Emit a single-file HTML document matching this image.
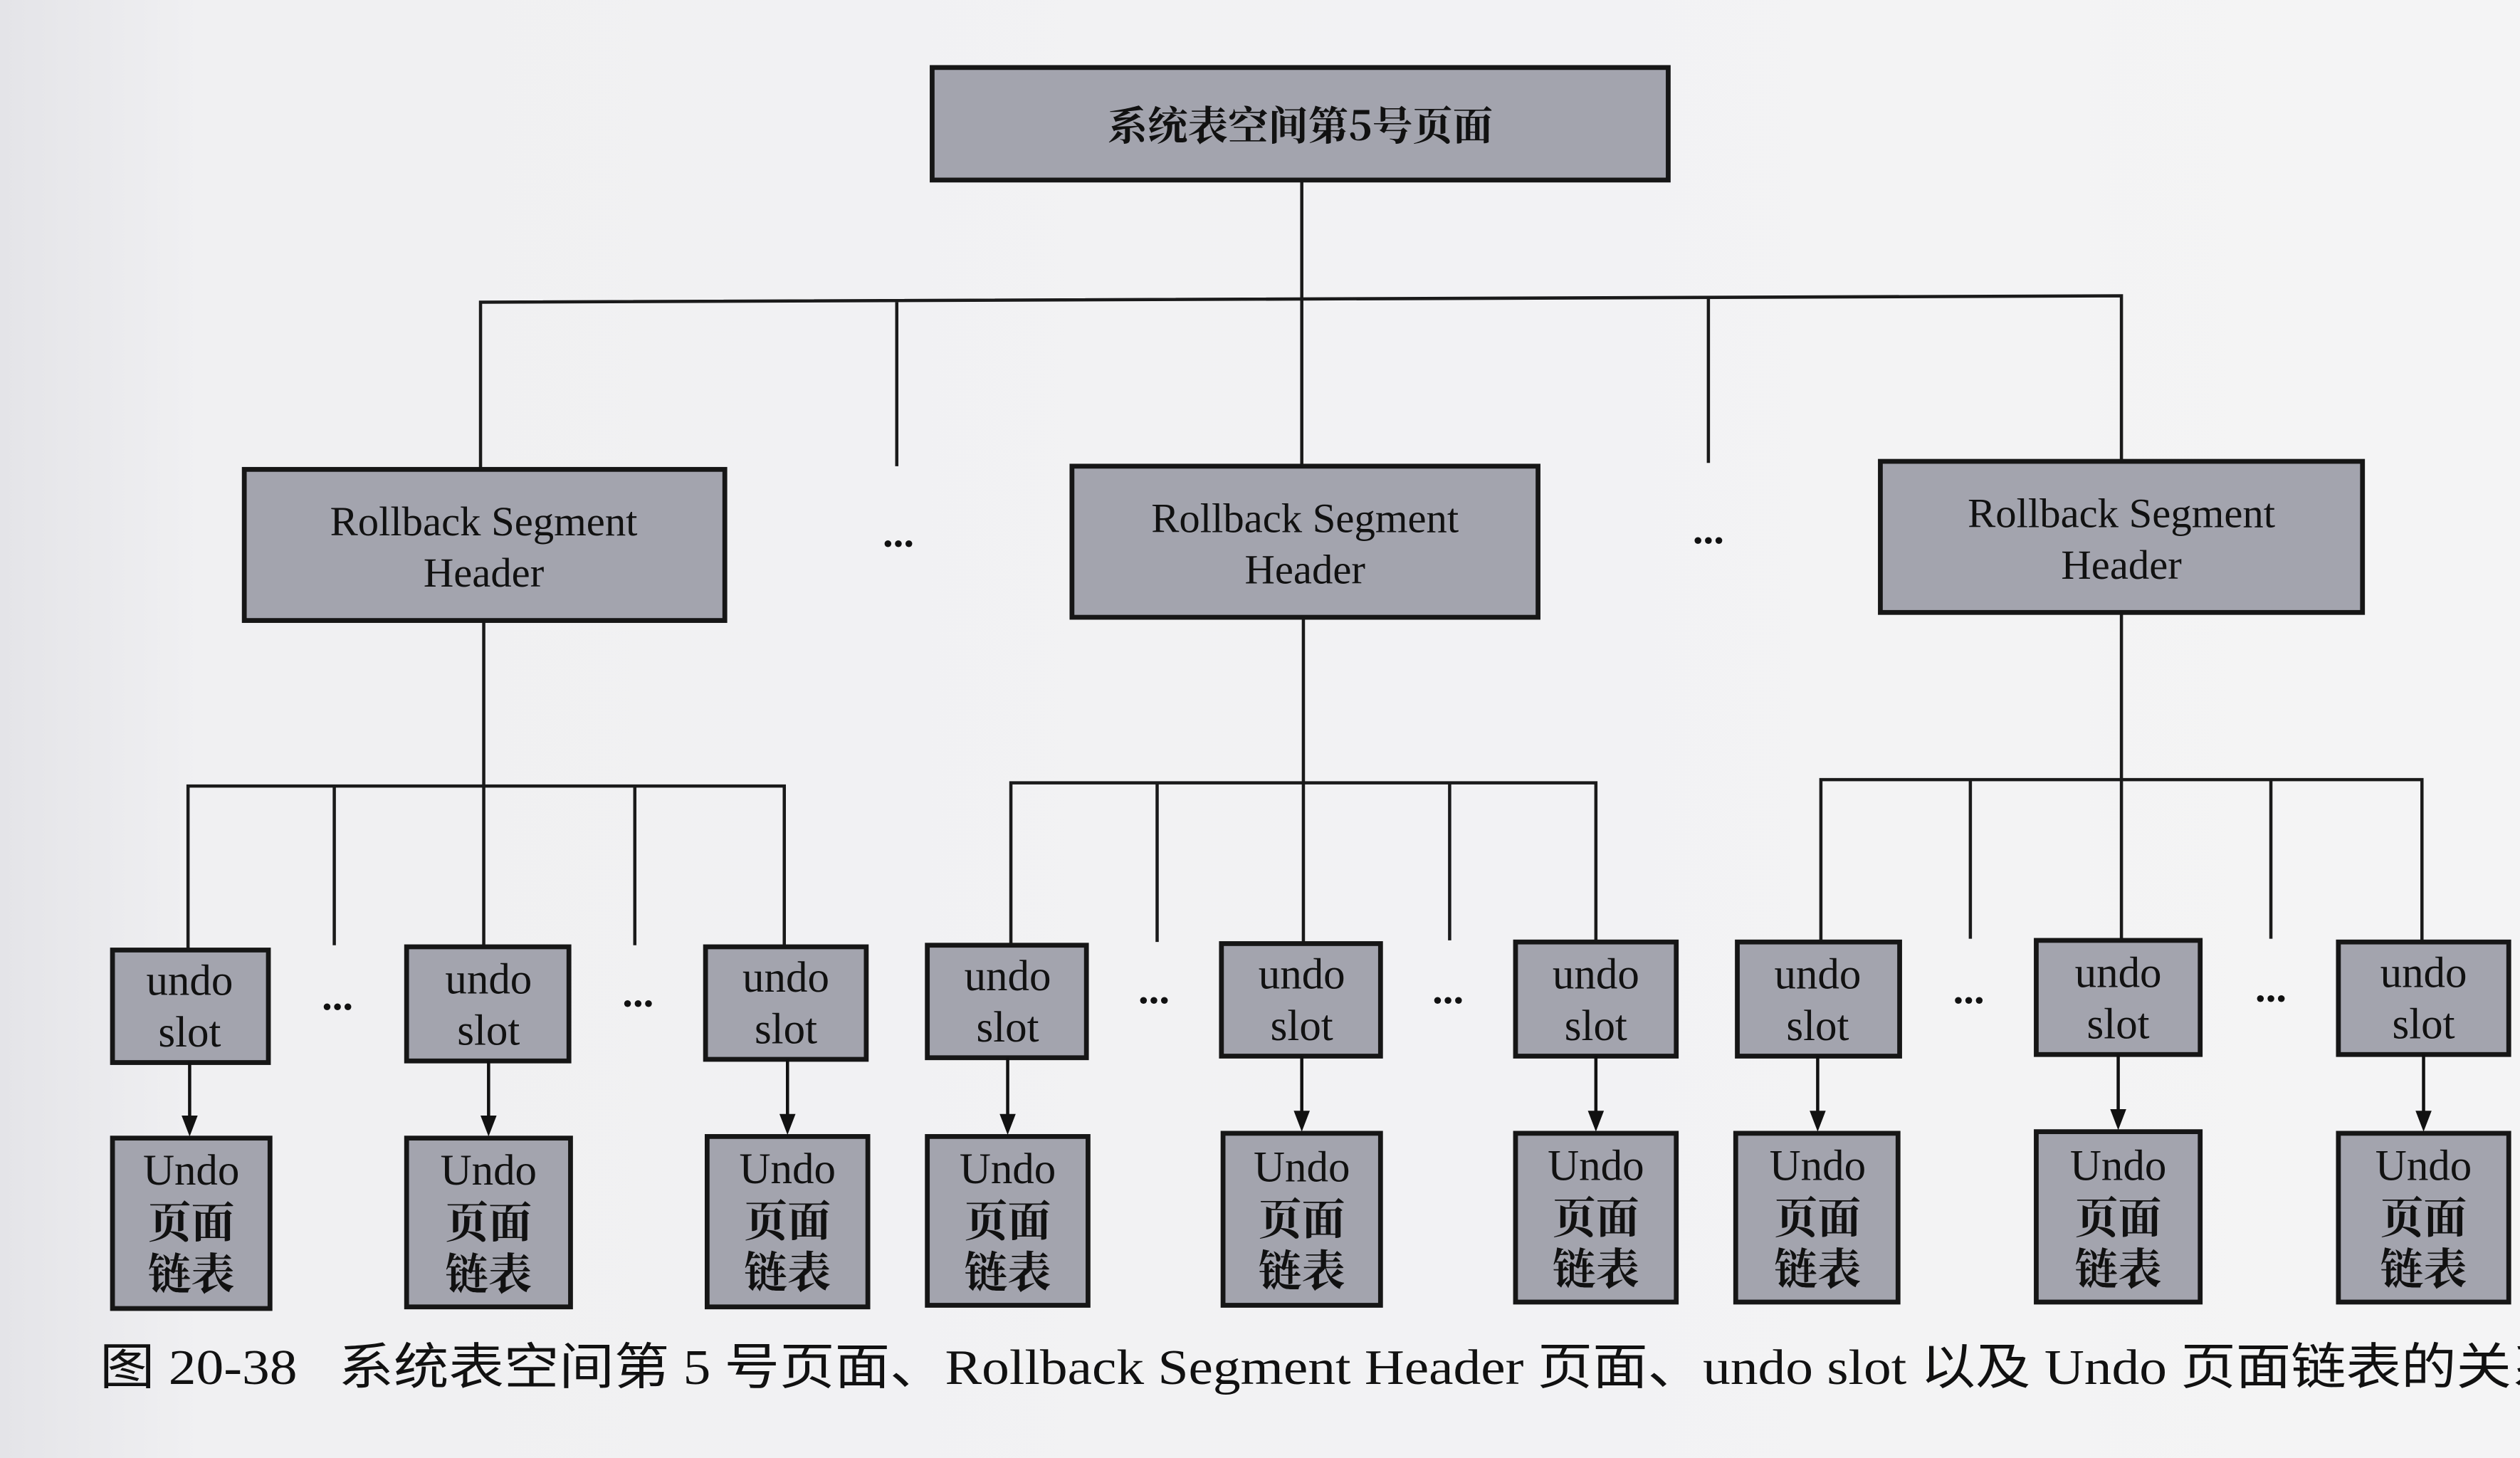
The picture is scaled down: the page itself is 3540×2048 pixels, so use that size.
<!DOCTYPE html>
<html><head><meta charset="utf-8"><style>
html,body{margin:0;padding:0;background:#efeff1;}
svg{display:block;}
</style></head><body>
<svg width="3540" height="2048" viewBox="0 0 1568 907" preserveAspectRatio="none" xmlns="http://www.w3.org/2000/svg">
<defs>
<linearGradient id="bg" x1="0" y1="0" x2="1" y2="0">
<stop offset="0" stop-color="#e4e4e8"/><stop offset="0.08" stop-color="#f0f0f2"/><stop offset="1" stop-color="#f4f4f5"/>
</linearGradient>
</defs>
<rect width="1568" height="907" fill="url(#bg)"/>
<g stroke="#1a1a1a" stroke-width="2" fill="none">
<line x1="810" y1="112" x2="810" y2="187"/>
<polyline points="299,292 299,188 1320,184 1320,287"/>
<line x1="558" y1="188" x2="558" y2="290"/>
<line x1="810" y1="186" x2="810" y2="290"/>
<line x1="1063" y1="185" x2="1063" y2="288"/>
<line x1="301" y1="386" x2="301" y2="589"/>
<polyline points="117,591 117,489 488,489 488,589"/>
<line x1="208" y1="489" x2="208" y2="588"/>
<line x1="395" y1="489" x2="395" y2="588"/>
<line x1="811" y1="384" x2="811" y2="587"/>
<polyline points="629,588 629,487 993,487 993,586"/>
<line x1="720" y1="487" x2="720" y2="586"/>
<line x1="902" y1="487" x2="902" y2="585"/>
<line x1="1320" y1="381" x2="1320" y2="585"/>
<polyline points="1133,586 1133,485 1507,485 1507,586"/>
<line x1="1226" y1="485" x2="1226" y2="584"/>
<line x1="1413" y1="485" x2="1413" y2="584"/>
</g>
<g fill="#a3a4ae" stroke="#161616" stroke-width="3">
<rect x="580" y="42" width="458" height="70"/>
<rect x="152" y="292" width="299" height="94"/>
<rect x="667" y="290" width="290" height="94"/>
<rect x="1170" y="287" width="300" height="94"/>
<rect x="70" y="591" width="97" height="70"/>
<rect x="253" y="589" width="101" height="71"/>
<rect x="439" y="589" width="100" height="70"/>
<rect x="577" y="588" width="99" height="70"/>
<rect x="760" y="587" width="99" height="70"/>
<rect x="943" y="586" width="100" height="71"/>
<rect x="1081" y="586" width="101" height="71"/>
<rect x="1267" y="585" width="102" height="71"/>
<rect x="1455" y="586" width="106" height="70"/>
<rect x="70" y="708" width="98" height="106"/>
<rect x="253" y="708" width="102" height="105"/>
<rect x="440" y="707" width="100" height="106"/>
<rect x="577" y="707" width="100" height="105"/>
<rect x="761" y="705" width="98" height="107"/>
<rect x="943" y="705" width="100" height="105"/>
<rect x="1080" y="705" width="101" height="105"/>
<rect x="1267" y="704" width="102" height="106"/>
<rect x="1455" y="705" width="106" height="105"/>
</g>
<g stroke="#111" stroke-width="2">
<line x1="118" y1="661" x2="118" y2="696"/>
<line x1="304" y1="660" x2="304" y2="696"/>
<line x1="490" y1="659" x2="490" y2="695"/>
<line x1="627" y1="658" x2="627" y2="695"/>
<line x1="810" y1="657" x2="810" y2="693"/>
<line x1="993" y1="657" x2="993" y2="693"/>
<line x1="1131" y1="657" x2="1131" y2="693"/>
<line x1="1318" y1="656" x2="1318" y2="692"/>
<line x1="1508" y1="656" x2="1508" y2="693"/>
</g>
<g fill="#111">
<path d="M113,694 L123,694 L118,707 Z"/>
<path d="M299,694 L309,694 L304,707 Z"/>
<path d="M485,693 L495,693 L490,706 Z"/>
<path d="M622,693 L632,693 L627,706 Z"/>
<path d="M805,691 L815,691 L810,704 Z"/>
<path d="M988,691 L998,691 L993,704 Z"/>
<path d="M1126,691 L1136,691 L1131,704 Z"/>
<path d="M1313,690 L1323,690 L1318,703 Z"/>
<path d="M1503,691 L1513,691 L1508,704 Z"/>
</g>
<g font-family="'Liberation Serif','Noto Serif CJK SC',serif" fill="#111" text-anchor="middle">
<text x="809" y="87" font-size="25" font-weight="bold" font-family="'Noto Serif CJK SC','Liberation Serif',serif">系统表空间第5号页面</text>
<text x="301" y="333" font-size="26">Rollback Segment</text><text x="301" y="365" font-size="26">Header</text>
<text x="812" y="331" font-size="26">Rollback Segment</text><text x="812" y="363" font-size="26">Header</text>
<text x="1320" y="328" font-size="26">Rollback Segment</text><text x="1320" y="360" font-size="26">Header</text>
<g font-size="26" font-weight="bold">
<text x="559" y="340">...</text><text x="1063" y="338">...</text>
<text x="210" y="628">...</text><text x="397" y="626">...</text><text x="718" y="624">...</text>
<text x="901" y="624">...</text><text x="1225" y="624">...</text><text x="1413" y="623">...</text>
</g>
<g font-size="27">
<text x="118" y="619">undo</text><text x="118" y="651">slot</text>
<text x="304" y="618">undo</text><text x="304" y="650">slot</text>
<text x="489" y="617">undo</text><text x="489" y="649">slot</text>
<text x="627" y="616">undo</text><text x="627" y="648">slot</text>
<text x="810" y="615">undo</text><text x="810" y="647">slot</text>
<text x="993" y="615">undo</text><text x="993" y="647">slot</text>
<text x="1131" y="615">undo</text><text x="1131" y="647">slot</text>
<text x="1318" y="614">undo</text><text x="1318" y="646">slot</text>
<text x="1508" y="614">undo</text><text x="1508" y="646">slot</text>
</g>
<g font-size="27">
<text x="119" y="737">Undo</text><text x="304" y="737">Undo</text><text x="490" y="736">Undo</text>
<text x="627" y="736">Undo</text><text x="810" y="735">Undo</text><text x="993" y="734">Undo</text>
<text x="1131" y="734">Undo</text><text x="1318" y="734">Undo</text><text x="1508" y="734">Undo</text>
</g>
<g font-size="27" font-weight="bold">
<text x="119" y="770">页面</text><text x="119" y="802">链表</text>
<text x="304" y="770">页面</text><text x="304" y="802">链表</text>
<text x="490" y="769">页面</text><text x="490" y="801">链表</text>
<text x="627" y="769">页面</text><text x="627" y="801">链表</text>
<text x="810" y="768">页面</text><text x="810" y="800">链表</text>
<text x="993" y="767">页面</text><text x="993" y="799">链表</text>
<text x="1131" y="767">页面</text><text x="1131" y="799">链表</text>
<text x="1318" y="767">页面</text><text x="1318" y="799">链表</text>
<text x="1508" y="767">页面</text><text x="1508" y="799">链表</text>
</g>
</g>
<text x="62" y="861" font-size="31" fill="#111" textLength="1535" lengthAdjust="spacingAndGlyphs" font-family="'Liberation Serif','Noto Sans CJK SC',serif" xml:space="preserve">图 20-38   系统表空间第 5 号页面、Rollback Segment Header 页面、undo slot 以及 Undo 页面链表的关系</text>
</svg>
</body></html>
